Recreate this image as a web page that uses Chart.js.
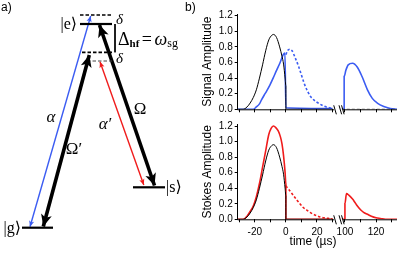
<!DOCTYPE html>
<html>
<head>
<meta charset="utf-8">
<script src="https://cdn.jsdelivr.net/npm/chart.js@4.4.1/dist/chart.umd.min.js"></script>
<style>
  html, body { margin: 0; padding: 0; background: #fff; }
  body { width: 415px; height: 254px; position: relative; overflow: hidden; }
  canvas { position: absolute; }
</style>
</head>
<body>
<canvas id="diag" width="200" height="254" style="left:0;top:0;width:200px;height:254px"></canvas>
<canvas id="sig" width="215" height="120" style="left:200px;top:0;width:215px;height:120px"></canvas>
<canvas id="sto" width="215" height="139" style="left:200px;top:115px;width:215px;height:139px"></canvas>
<script>
// ---- panel b) data, time in us ----
const blackT = [-31, -27.5, -25, -23, -21, -19, -17, -15, -13, -11, -9, -8, -6, -4, -2.5, -1.5, -0.5, 0, 0, 30];
const blackV = [0, 0, 0.03, 0.08, 0.15, 0.25, 0.40, 0.57, 0.75, 0.89, 0.95, 0.96, 0.92, 0.80, 0.68, 0.58, 0.40, 0.30, 0, 0];
const blackRT = [98, 133.5];
const blackRV = [0, 0];

const sigT = [-31, -21, -19, -17, -15.7, -14, -12.5, -10.3, -8.2, -6, -3.9, -1.7, -0.6, 0, 30];
const sigV = [0, 0, 0.03, 0.07, 0.12, 0.18, 0.23, 0.31, 0.40, 0.50, 0.59, 0.70, 0.72, 0.02, 0.01];
const sigDashT = [0, 1, 2.5, 4, 6, 8, 10, 12, 14, 16, 18, 20, 23, 26, 29];
const sigDashV = [0.70, 0.75, 0.77, 0.75, 0.66, 0.56, 0.44, 0.32, 0.23, 0.16, 0.12, 0.09, 0.055, 0.03, 0.015];
const sigRT = [98, 99.5, 99.5, 100.6, 102.1, 104.9, 108, 111, 114.5, 117.6, 120.8, 125, 129.2, 133.5];
const sigRV = [0, 0, 0.42, 0.50, 0.57, 0.59, 0.54, 0.42, 0.25, 0.14, 0.08, 0.035, 0.01, 0];

const stoT = [-31, -27.5, -25, -23, -21, -19, -17, -15, -13, -11, -9.5, -8, -6.5, -5, -3.5, -2.5, -1.5, -0.5, 0, 0, 30];
const stoV = [0, 0, 0.04, 0.10, 0.17, 0.29, 0.46, 0.67, 0.88, 1.09, 1.17, 1.20, 1.18, 1.14, 1.06, 0.97, 0.82, 0.60, 0.45, 0, 0];
const stoDashT = [0, 2, 4.7, 7, 9, 11, 13.3, 15.5, 17.6, 20, 22, 25, 28, 30];
const stoDashV = [0.43, 0.38, 0.31, 0.25, 0.20, 0.155, 0.12, 0.09, 0.065, 0.045, 0.03, 0.018, 0.01, 0.005];
const stoRT = [98, 100, 100, 101, 102.5, 104.9, 106, 108, 110.2, 112, 114.5, 117, 120, 123, 126, 133.5];
const stoRV = [0, 0, 0.2, 0.33, 0.31, 0.26, 0.23, 0.17, 0.12, 0.09, 0.065, 0.04, 0.02, 0.01, 0, 0];

const xTicks = [-30, -20, -10, 0, 10, 20, 30, 100, 110, 120, 130];
const xLabelled = [-20, 0, 20, 100, 120];
const yTicks = [0, 0.2, 0.4, 0.6, 0.8, 1.0, 1.2];

// ---- panel a) level scheme (x across, y = height from bottom of panel) ----
const levelNames = ['|g\u27E9', '|s\u27E9', '|e\u27E9'];
const levelY = [26.3, 66.7, 230];
const levelX0 = [22, 133, 80];
const levelX1 = [53, 165, 112];
const virtY = [239, 201.7, 193];
const virtX0 = [80, 82, 87];
const virtX1 = [112, 112, 112];
const virtW = [1.5, 1.8, 1];

const arrowNames = ['\u03B1', '\u03A9\u2032', '\u03B1\u2032', '\u03A9'];
const arrowFrom = [[30, 27.3], [43.3, 27.5], [100, 192.3], [99.5, 229]];
const arrowTo = [[90.7, 238], [89.3, 199], [143.8, 69], [154.5, 68.5]];
const arrowColor = ['#3b5cf2', '#000', '#f01c1c', '#000'];
const arrowWidth = [1.4, 3.6, 1.4, 3.6];
const arrowLabelXY = [[51, 136], [74, 104], [105, 129], [140, 144]];

const BLUE = '#3b5cf2';
const RED = '#f01c1c';

// broken time axis: 31..98 us is squeezed into a 5 unit gap
const breakFrom = 31, breakTo = 98, gap = 5;
const mapT = t => t <= breakFrom ? t : t - breakTo + breakFrom + gap;
const unmapT = x => x <= breakFrom ? x : x + breakTo - breakFrom - gap;
const pts = (ts, vs) => ts.map((t, i) => ({ x: mapT(t), y: vs[i] }));

Chart.defaults.font.family = '"Liberation Sans", Arial, sans-serif';
Chart.defaults.color = '#000';

function line(data, color, width, dash) {
  return { data, borderColor: color, borderWidth: width, borderDash: dash || [],
           pointRadius: 0, showLine: true, fill: false, tension: 0.3, cubicInterpolationMode: 'monotone' };
}

const brokenAxis = {
  id: 'brokenAxis',
  afterDraw(chart) {
    const { ctx, chartArea, scales: { x } } = chart;
    const y0 = chartArea.bottom + 0.5;
    const aEnd = x.getPixelForValue(breakFrom);
    const bStart = x.getPixelForValue(breakFrom + gap) + 1;
    ctx.save();
    ctx.strokeStyle = '#000';
    ctx.lineWidth = 1;
    ctx.beginPath();
    ctx.moveTo(chartArea.left, y0); ctx.lineTo(aEnd, y0);
    ctx.moveTo(bStart, y0); ctx.lineTo(chartArea.right, y0);
    [aEnd + 1, bStart - 2.5, bStart].forEach(px => {
      ctx.moveTo(px - 1.3, y0 - 4.5);
      ctx.lineTo(px + 1.3, y0 + 4.5);
    });
    ctx.stroke();
    ctx.restore();
  }
};

function panel(id, datasets, opts) {
  return new Chart(document.getElementById(id), {
    type: 'scatter',
    data: { datasets },
    options: {
      responsive: false,
      animation: false,
      devicePixelRatio: 1,
      layout: { padding: { left: 0, right: 18, top: opts.top, bottom: 0 } },
      plugins: { legend: { display: false }, tooltip: { enabled: false } },
      scales: {
        x: {
          type: 'linear', min: -31, max: mapT(133.5),
          afterBuildTicks: s => { s.ticks = xTicks.map(t => ({ value: mapT(t) })); },
          afterFit: s => { s.height = opts.xh; },
          border: { display: false },
          grid: { drawOnChartArea: false, drawTicks: true, tickLength: 3, color: '#000' },
          ticks: {
            display: opts.labels, autoSkip: false, maxRotation: 0, padding: 4,
            font: { size: 10 },
            callback: v => { const t = Math.round(unmapT(v)); return xLabelled.includes(t) ? String(t) : ''; }
          }
        },
        y: {
          min: 0, max: 1.222,
          afterBuildTicks: s => { s.ticks = yTicks.map(v => ({ value: v })); },
          afterFit: s => { s.width = 37.7; },
          border: { display: true, color: '#000', width: 1 },
          grid: { drawOnChartArea: false, drawTicks: true, tickLength: 3, color: '#000' },
          ticks: { padding: 2, font: { size: 10 }, callback: v => v.toFixed(1) },
          title: { display: true, text: opts.title, font: { size: 12 }, padding: 0 }
        }
      }
    },
    plugins: [brokenAxis, {
      id: 'xtitle',
      afterDraw(chart) {
        if (!opts.xtitle) return;
        const { ctx, chartArea } = chart;
        ctx.save();
        ctx.font = '12px "Liberation Sans", Arial, sans-serif';
        ctx.fillStyle = '#000';
        ctx.textAlign = 'center';
        ctx.textBaseline = 'middle';
        ctx.fillText(opts.xtitle, chart.scales.x.getPixelForValue(17.5), chartArea.bottom + 22.5);
        ctx.restore();
      }
    }]
  });
}

panel('sig', [
  line(pts(blackT, blackV), '#000', 1),
  line(pts(blackRT, blackRV), '#333', 1, [3, 2]),
  line(pts(sigT, sigV), BLUE, 1.6),
  line(pts(sigDashT, sigDashV), BLUE, 1.6, [2.5, 2]),
  line(pts(sigRT, sigRV), BLUE, 1.6)
], { top: 14, xh: 10.7, labels: false, title: 'Signal Amplitude' });

panel('sto', [
  line(pts(blackT, blackV), '#000', 1),
  line(pts(stoT, stoV), RED, 1.6),
  line(pts(stoDashT, stoDashV), RED, 1.6, [2.5, 2]),
  line(pts(stoRT, stoRV), RED, 1.6)
], { top: 9.3, xh: 34.7, labels: true, title: 'Stokes Amplitude', xtitle: 'time (\u00B5s)' });

// ---- panel a) ----
const diagSets = [];
levelY.forEach((y, i) => diagSets.push({
  data: [{ x: levelX0[i], y }, { x: levelX1[i], y }],
  borderColor: '#000', borderWidth: 2.2, showLine: true, pointRadius: 0
}));
virtY.forEach((y, i) => diagSets.push({
  data: [{ x: virtX0[i], y }, { x: virtX1[i], y }],
  borderColor: i === 2 ? '#444' : '#000', borderWidth: virtW[i], borderDash: [3.5, 2], showLine: true, pointRadius: 0
}));
// bracket between |e> and the lower virtual level
diagSets.push({
  data: [{ x: 115, y: levelY[2] }, { x: 115, y: virtY[1] }],
  borderColor: '#000', borderWidth: 1, showLine: true, pointRadius: 0
});
arrowFrom.forEach((p, i) => diagSets.push({
  data: [{ x: p[0], y: p[1] }, { x: arrowTo[i][0], y: arrowTo[i][1] }],
  borderColor: arrowColor[i], borderWidth: arrowWidth[i], showLine: true, pointRadius: 0,
  arrow: true
}));

function head(ctx, tip, tail, len, half, color) {
  const ang = Math.atan2(tip.y - tail.y, tip.x - tail.x);
  ctx.save();
  ctx.translate(tip.x, tip.y);
  ctx.rotate(ang);
  ctx.fillStyle = color;
  ctx.beginPath();
  ctx.moveTo(0, 0);
  ctx.lineTo(-len, -half);
  ctx.lineTo(-len * 0.75, 0);
  ctx.lineTo(-len, half);
  ctx.closePath();
  ctx.fill();
  ctx.restore();
}

const diagramText = {
  id: 'diagramText',
  afterDatasetsDraw(chart) {
    const { ctx, scales: { x, y } } = chart;
    chart.data.datasets.forEach((ds, i) => {
      if (!ds.arrow) return;
      const m = chart.getDatasetMeta(i).data;
      const thick = ds.borderWidth > 2;
      const len = thick ? 12 : 6, half = thick ? 5.5 : 2.6;
      head(ctx, m[0], m[1], len, half, ds.borderColor);
      head(ctx, m[1], m[0], len, half, ds.borderColor);
    });
    const serif = '"Liberation Serif", "DejaVu Serif", serif';
    const txt = (s, px, py, font, align) => {
      ctx.font = font; ctx.textAlign = align || 'left'; ctx.textBaseline = 'middle';
      ctx.fillStyle = '#000';
      ctx.fillText(s, x.getPixelForValue(px), y.getPixelForValue(py));
    };
    ctx.save();
    txt('a)', 1, 246, '12px "Liberation Sans", Arial, sans-serif');
    txt('b)', 185, 246, '12px "Liberation Sans", Arial, sans-serif');
    txt(levelNames[2], 77, levelY[2] - 0.5, '16px ' + serif, 'right');
    txt(levelNames[0], 21, levelY[0] - 1, '16px ' + serif, 'right');
    txt(levelNames[1], 166, levelY[1] - 0.5, '16px ' + serif, 'left');
    txt('\u03B4', 116, 234, 'italic 15px ' + serif);
    txt('\u03B4', 116, 195, 'italic 15px ' + serif);
    arrowNames.forEach((s, i) => {
      txt(s, arrowLabelXY[i][0], arrowLabelXY[i][1], (i % 2 === 0 ? 'italic ' : '') + '17px ' + serif, 'center');
    });
    // Delta_hf = omega_sg
    let cx = x.getPixelForValue(118);
    const cy = y.getPixelForValue(214);
    const piece = (s, font, dy) => {
      ctx.font = font; ctx.textAlign = 'left'; ctx.textBaseline = 'middle';
      ctx.fillText(s, cx, cy + dy);
      cx += ctx.measureText(s).width;
    };
    piece('\u0394', '18px ' + serif, 0);
    piece('hf', 'bold 11px ' + serif, 4);
    cx += 2.5;
    piece('=', '18px ' + serif, 0);
    cx += 2.5;
    piece('\u03C9', 'italic 18px ' + serif, 0);
    piece('sg', '12px ' + serif, 4);
    ctx.restore();
  }
};

new Chart(document.getElementById('diag'), {
  type: 'scatter',
  data: { datasets: diagSets },
  options: {
    responsive: false,
    animation: false,
    devicePixelRatio: 1,
    layout: { padding: 0 },
    plugins: { legend: { display: false }, tooltip: { enabled: false } },
    scales: {
      x: { display: false, min: 0, max: 200 },
      y: { display: false, min: 0, max: 254 }
    }
  },
  plugins: [diagramText]
});
</script>
</body>
</html>
